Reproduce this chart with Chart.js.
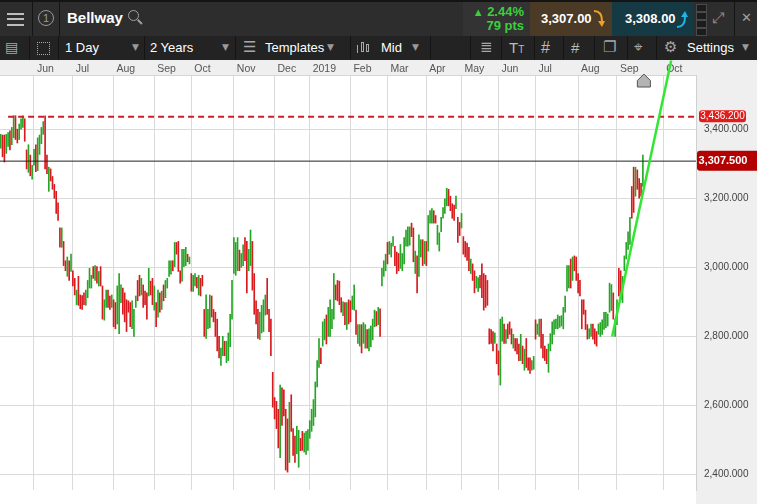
<!DOCTYPE html>
<html>
<head>
<meta charset="utf-8">
<script src="https://cdn.jsdelivr.net/npm/chart.js@4.4.0/dist/chart.umd.min.js"></script>
<style>
  body { margin:0; width:757px; height:504px; overflow:hidden; background:#fff; font-family:"Liberation Sans", Arial, sans-serif; }
  #top1 { position:absolute; left:0; top:0; width:757px; height:36px; background:#2d2d2d; border-top:2px solid #141414; box-sizing:border-box; }
  #top2 { position:absolute; left:0; top:36px; width:757px; height:24px; background:#232323; }
  .t { position:absolute; color:#fff; white-space:nowrap; }
  .dv { position:absolute; top:0; width:1px; height:100%; background:#141414; }
  .ic { position:absolute; color:#a8a8a8; font-family:"DejaVu Sans", sans-serif; white-space:nowrap; }
  .ham { position:absolute; left:7px; width:17px; height:2px; background:#bdbdbd; }
  .tri { position:absolute; top:6px; color:#9a9a9a; font-size:9px; font-family:"DejaVu Sans", sans-serif; }
  #wrap { position:absolute; left:0; top:60px; width:757px; height:444px; }
</style>
</head>
<body>
<div id="top1">
  <div class="ham" style="top:11px"></div>
  <div class="ham" style="top:16px"></div>
  <div class="ham" style="top:22px"></div>
  <div class="dv" style="left:32px"></div>
  <div style="position:absolute;left:38px;top:8px;width:14px;height:14px;border:1.5px solid #9a9a9a;border-radius:50%;color:#9a9a9a;font-size:11px;line-height:14px;text-align:center;">1</div>
  <div class="dv" style="left:59px"></div>
  <div class="t" style="left:67px;top:7px;font-size:15px;font-weight:bold;line-height:18px;">Bellway</div>
  <div style="position:absolute;left:128px;top:8px;width:9px;height:9px;border:1.5px solid #a0a0a0;border-radius:50%;"></div>
  <div style="position:absolute;left:137px;top:19px;width:6px;height:1.5px;background:#a0a0a0;transform:rotate(45deg);"></div>
  <div style="position:absolute;left:463px;top:0;width:67px;height:34px;background:#333;"></div>
  <div class="t" style="left:463px;width:61px;text-align:right;top:3px;font-size:13px;font-weight:bold;color:#3ccf3c;line-height:14px;"><span style="font-size:11px">&#9650;</span> 2.44%</div>
  <div class="t" style="left:463px;width:61px;text-align:right;top:17px;font-size:13px;font-weight:bold;color:#3ccf3c;line-height:14px;">79 pts</div>
  <div style="position:absolute;left:530px;top:0;width:82px;height:34px;background:#4b3a26;"></div>
  <div class="t" style="left:541px;top:9px;font-size:13px;font-weight:bold;line-height:16px;">3,307.00</div>
  <svg style="position:absolute;left:593px;top:8px" width="12" height="18" viewBox="0 0 12 18"><path d="M1 2 Q8 2 8 11 L5 11 L9 17 L12 11 L10 11 Q10 0 1 0 Z" fill="#f0a020"/></svg>
  <div style="position:absolute;left:612px;top:0;width:82px;height:34px;background:#163a44;"></div>
  <div class="t" style="left:625px;top:9px;font-size:13px;font-weight:bold;line-height:16px;">3,308.00</div>
  <svg style="position:absolute;left:676px;top:8px" width="12" height="18" viewBox="0 0 12 18"><path d="M1 16 Q8 16 8 7 L5 7 L9 1 L12 7 L10 7 Q10 18 1 18 Z" fill="#1eb4e6"/></svg>
  <div style="position:absolute;left:696px;top:2px;width:9px;height:6px;background:#1c1c1c;border:1px solid #4a4a4a;"></div>
  <div style="position:absolute;left:696px;top:10px;width:9px;height:6px;background:#1c1c1c;border:1px solid #4a4a4a;"></div>
  <div style="position:absolute;left:696px;top:18px;width:9px;height:6px;background:#1c1c1c;border:1px solid #4a4a4a;"></div>
  <div style="position:absolute;left:696px;top:26px;width:9px;height:6px;background:#1c1c1c;border:1px solid #4a4a4a;"></div>
  <div class="ic" style="left:712px;top:7px;font-size:15px;color:#8a8a8a;">&#10530;</div>
  <div class="dv" style="left:734px"></div>
  <div class="ic" style="left:741px;top:8px;font-size:13px;color:#a0a0a0;">&#10005;</div>
</div>
<div id="top2">
  <div class="ic" style="left:5px;top:3px;font-size:14px;">&#9636;</div>
  <div class="dv" style="left:29px"></div>
  <div style="position:absolute;left:37px;top:6px;width:11px;height:11px;border:1px dotted #a8a8a8;"></div>
  <div class="dv" style="left:58px"></div>
  <div class="t" style="left:65px;top:4px;font-size:13px;line-height:16px;">1 Day</div>
  <div class="tri" style="left:132px">&#9660;</div>
  <div class="dv" style="left:144px"></div>
  <div class="t" style="left:150px;top:4px;font-size:13px;line-height:16px;">2 Years</div>
  <div class="tri" style="left:222px">&#9660;</div>
  <div class="dv" style="left:235px"></div>
  <div class="ic" style="left:243px;top:2px;font-size:15px;">&#9776;</div>
  <div class="t" style="left:265px;top:4px;font-size:13px;line-height:16px;">Templates</div>
  <div class="tri" style="left:327px">&#9660;</div>
  <div class="dv" style="left:350px"></div>
  <div style="position:absolute;left:357px;top:9px;width:1px;height:8px;background:#a8a8a8;"></div>
  <div style="position:absolute;left:361px;top:6px;width:3px;height:10px;border:1px solid #a8a8a8;box-sizing:border-box;"></div>
  <div style="position:absolute;left:366px;top:8px;width:3px;height:8px;border:1px solid #a8a8a8;box-sizing:border-box;"></div>
  <div class="t" style="left:381px;top:4px;font-size:13px;line-height:16px;">Mid</div>
  <div class="tri" style="left:412px">&#9660;</div>
  <div class="dv" style="left:430px"></div>
  <div class="dv" style="left:470px"></div>
  <div class="ic" style="left:480px;top:2px;font-size:15px;">&#8803;</div>
  <div class="dv" style="left:501px"></div>
  <div class="t" style="left:509px;top:3px;font-size:15px;color:#bbb;line-height:17px;">T<span style="font-size:10px">T</span></div>
  <div class="dv" style="left:534px"></div>
  <div class="t" style="left:541px;top:3px;font-size:16px;color:#bbb;line-height:17px;">#</div>
  <div class="dv" style="left:563px"></div>
  <div class="t" style="left:571px;top:3px;font-size:15px;color:#bbb;line-height:17px;">#</div>
  <div class="dv" style="left:594px"></div>
  <div class="ic" style="left:603px;top:2px;font-size:15px;">&#10064;</div>
  <div class="dv" style="left:627px"></div>
  <div class="ic" style="left:634px;top:2px;font-size:15px;">&#8982;</div>
  <div class="dv" style="left:656px"></div>
  <div class="ic" style="left:664px;top:2px;font-size:15px;">&#9881;</div>
  <div class="t" style="left:687px;top:4px;font-size:13px;line-height:16px;">Settings</div>
  <div class="tri" style="left:742px">&#9660;</div>
</div>
<div id="wrap"><canvas id="chart" width="757" height="444"></canvas></div>

<script>
// --- data: daily high / low bars, last flag 1 = up (green), 0 = down (red) ---
const may18 = [[3385,3345,1],[3383,3320,0],[3383,3305,0],[3385,3330,1],[3390,3350,1],[3395,3340,0],[3405,3355,1],[3439,3375,1],[3439,3370,0],[3400,3360,0],[3415,3370,1],[3430,3400,1],[3439,3405,1],[3430,3365,0],[3340,3285,0],[3355,3275,1],[3325,3265,0],[3295,3255,1]];
const jun18 = [[3342,3296,1],[3355,3277,0],[3375,3280,1],[3383,3327,1],[3405,3358,1],[3422,3385,1],[3439,3285,0],[3325,3271,0],[3290,3220,1],[3285,3250,0],[3263,3226,0],[3240,3200,0],[3220,3156,0],[3187,3136,0],[3114,3058,0],[3114,3058,1],[3075,3005,0],[3019,2990,0],[3030,2974,1],[3019,2962,0],[3038,2988,1]];
const jul18 = [[2990,2946,0],[2968,2920,0],[2934,2892,1],[2974,2890,0],[2920,2880,0],[2918,2878,0],[2926,2892,0],[2934,2890,1],[2962,2912,1],[2997,2940,1],[2977,2940,1],[3002,2968,0],[3005,2962,1],[3002,2954,0],[2988,2946,1],[3002,2946,0],[2946,2850,0],[2906,2847,1],[2934,2884,1],[2934,2884,0],[2917,2878,0],[2920,2884,1]];
const aug18 = [[2906,2828,0],[2898,2822,0],[2946,2836,1],[2982,2808,1],[2949,2898,1],[2940,2864,0],[2926,2842,0],[2906,2814,0],[2903,2870,0],[2898,2828,0],[2903,2822,1],[2878,2800,1],[2917,2884,1],[2962,2903,0],[2977,2917,0],[2968,2920,1],[2949,2884,0],[2931,2892,0],[2926,2850,0],[2997,2917,1],[2960,2920,0],[2968,2892,0]];
const sep18 = [[2946,2876,1],[2898,2828,0],[2934,2856,1],[2926,2870,0],[2931,2878,1],[2949,2903,0],[2962,2912,1],[2968,2940,1],[3019,2974,1],[3019,2980,1],[3019,2990,0],[3072,3002,1],[3072,3038,0],[3075,2988,0],[2990,2954,0],[3052,2960,1],[3052,3002,1],[3058,3005,1],[3038,3016,0],[3030,3010,1]];
const oct18 = [[2982,2931,0],[2977,2930,1],[2982,2946,1],[2971,2940,0],[2977,2920,1],[2968,2917,0],[2977,2946,0],[2878,2800,0],[2920,2794,1],[2878,2822,1],[2920,2825,1],[2917,2856,0],[2878,2842,0],[2870,2800,0],[2850,2758,0],[2800,2738,0],[2766,2716,1],[2800,2744,1],[2786,2744,0],[2786,2724,1],[2810,2730,1],[2864,2770,1],[2962,2850,1]];
const nov18 = [[3086,2982,1],[3072,2977,1],[3086,2990,1],[3050,2990,0],[3040,3000,1],[3065,3005,1],[3086,3019,0],[3075,2926,0],[3052,2990,1],[3108,3005,1],[3075,2934,0],[2982,2864,0],[2903,2836,0],[2878,2794,0],[2870,2791,1],[2890,2810,1],[2906,2814,1],[2920,2862,1],[2968,2864,0],[2878,2814,0],[2850,2744,0],[2696,2595,0]];
const dec18 = [[2623,2561,0],[2612,2533,0],[2589,2477,0],[2659,2449,1],[2651,2542,0],[2645,2570,0],[2589,2413,0],[2561,2407,0],[2609,2435,1],[2631,2525,0],[2533,2455,0],[2511,2435,0],[2540,2460,1],[2528,2421,1],[2505,2469,0],[2525,2470,0],[2520,2465,1],[2525,2458,1],[2530,2470,1]];
const jan19 = [[2556,2505,1],[2589,2525,1],[2617,2542,1],[2668,2567,1],[2730,2654,1],[2794,2710,1],[2766,2721,0],[2842,2772,1],[2850,2790,1],[2862,2778,0],[2884,2800,1],[2906,2800,1],[2878,2822,1],[2982,2850,1],[2949,2906,0],[2962,2903,0],[2960,2892,0],[2912,2870,0],[2900,2860,1],[2898,2834,0],[2898,2820,1],[2906,2836,0]];
const feb19 = [[2903,2842,0],[2917,2878,1],[2949,2876,1],[2876,2806,0],[2834,2780,1],[2834,2772,1],[2834,2752,0],[2840,2780,1],[2834,2766,1],[2820,2766,0],[2822,2758,1],[2830,2770,1],[2850,2790,1],[2876,2828,1],[2872,2830,0],[2884,2834,1],[2880,2800,0],[2997,2946,1],[3019,2974,1],[3038,2990,1]];
const mar19 = [[3072,3010,0],[3075,3038,1],[3070,3030,1],[3089,3061,1],[3061,3005,0],[3044,2982,0],[3040,2990,0],[3066,2997,1],[3040,2990,1],[3086,3010,1],[3108,3061,1],[3117,3061,1],[3117,3064,1],[3128,3089,0],[3114,3016,0],[3047,2982,1],[3033,2926,0],[3094,2974,1],[3080,3030,1],[3080,3005,0],[3075,3010,1]];
const apr19 = [[3075,3005,0],[3150,3047,1],[3164,3128,1],[3170,3128,1],[3164,3128,0],[3150,3128,0],[3122,3066,1],[3100,3047,1],[3145,3103,1],[3173,3142,1],[3198,3156,1],[3229,3178,1],[3226,3178,0],[3206,3164,0],[3184,3142,0],[3180,3136,0],[3206,3170,1],[3145,3072,0],[3130,3092,0]];
const may19 = [[3156,3114,1],[3089,3038,0],[3075,3030,0],[3070,3020,0],[3058,2990,0],[3024,2982,1],[3010,2962,0],[2990,2926,0],[2974,2940,1],[2970,2930,1],[2977,2940,0],[3010,2912,0],[2982,2876,0],[2977,2884,0],[2962,2890,0],[2822,2778,0],[2820,2780,0],[2814,2758,0],[2810,2780,1],[2778,2721,0]];
const jun19 = [[2758,2688,0],[2850,2659,1],[2856,2786,1],[2836,2780,0],[2820,2780,1],[2836,2794,0],[2842,2806,0],[2822,2778,0],[2806,2766,1],[2794,2758,0],[2794,2749,0],[2778,2730,0],[2806,2730,1],[2772,2721,0],[2763,2702,1],[2794,2710,0],[2738,2702,0],[2738,2693,0],[2730,2702,1],[2742,2705,1]];
const jul19 = [[2848,2792,0],[2836,2806,1],[2850,2800,1],[2850,2766,0],[2806,2738,0],[2772,2730,0],[2763,2721,0],[2778,2696,1],[2808,2758,1],[2842,2778,1],[2848,2806,1],[2850,2822,1],[2862,2822,1],[2858,2826,1],[2860,2830,1],[2884,2822,1],[2917,2870,1],[3005,2931,1],[3005,2940,1],[3024,2940,0],[3030,2962,1],[3033,2990,0],[3030,2962,0]];
const aug19 = [[2982,2926,0],[2962,2917,0],[2906,2822,0],[2906,2864,0],[2876,2820,0],[2834,2792,0],[2822,2794,1],[2836,2800,1],[2836,2792,0],[2822,2778,0],[2814,2772,0],[2836,2806,1],[2840,2800,1],[2848,2806,1],[2870,2820,1],[2870,2825,1],[2865,2830,1],[2954,2870,1],[2950,2875,1],[2926,2850,0],[2850,2800,1]];
const sep19 = [[2906,2834,1],[2997,2917,0],[2990,2906,0],[2974,2898,1],[3033,2990,1],[3072,3024,1],[3103,3052,1],[3145,3066,1],[3234,3142,0],[3290,3159,0],[3290,3206,1],[3282,3226,0],[3257,3200,0],[3243,3206,0],[3325,3234,1]];

// month starts (trading-day index, 0 = 1 Jun 2018) and their labels
const monthIdx = [0, 21, 43, 65, 85, 108, 130, 149, 171, 191, 212, 231, 251, 271, 294, 315, 340];
const monthLabels = ['Jun','Jul','Aug','Sep','Oct','Nov','Dec','2019','Feb','Mar','Apr','May','Jun','Jul','Aug','Sep','Oct'];
const priceTicks = [2400, 2600, 2800, 3000, 3200, 3400];

const resistance = 3436.2;     // dashed red level
const lastPrice = 3307.5;      // current price line
const resistanceFrom = -14;    // index where the dashed level starts
const trendFrom = [312.4, 2800];
const trendTo = [344.3, 3599];

// --- setup ---
const GREEN = '#26a526';
const RED = '#d61a1e';
const X_MIN = -18.37, X_MAX = 357.7;
const Y_MIN = 2355.2, Y_MAX = 3556.9;

const allBars = [].concat(may18, jun18, jul18, aug18, sep18, oct18, nov18, dec18,
  jan19, feb19, mar19, apr19, may19, jun19, jul19, aug19, sep19);
const firstIdx = -may18.length;
const lastIdx = firstIdx + allBars.length - 1;

function fmt(v) {
  return v.toLocaleString('en-US', { minimumFractionDigits: 3, maximumFractionDigits: 3 });
}

function roundRect(ctx, x, y, w, h, r) {
  ctx.beginPath();
  ctx.moveTo(x + r, y);
  ctx.lineTo(x + w - r, y);
  ctx.quadraticCurveTo(x + w, y, x + w, y + r);
  ctx.lineTo(x + w, y + h - r);
  ctx.quadraticCurveTo(x + w, y + h, x + w - r, y + h);
  ctx.lineTo(x + r, y + h);
  ctx.quadraticCurveTo(x, y + h, x, y + h - r);
  ctx.lineTo(x, y + r);
  ctx.quadraticCurveTo(x, y, x + r, y);
  ctx.closePath();
}

const chrome = {
  id: 'chrome',
  beforeDraw(chart) {
    const { ctx, chartArea: a, width, height } = chart;
    ctx.save();
    ctx.fillStyle = '#efefef';
    ctx.fillRect(0, 0, width, a.top);
    ctx.fillRect(a.right, a.top, width - a.right, height - a.top);
    ctx.restore();
  },
  afterDraw(chart) {
    const { ctx, chartArea: a, scales } = chart;
    const yS = scales.y, xS = scales.x;
    ctx.save();
    ctx.textAlign = 'center';
    ctx.textBaseline = 'middle';

    // resistance tag
    let y = yS.getPixelForValue(resistance);
    ctx.fillStyle = '#e31b1b';
    roundRect(ctx, a.right + 3, y - 6.5, 47, 12, 3);
    ctx.fill();
    ctx.fillStyle = '#fff';
    ctx.font = '10px "Liberation Sans", Arial, sans-serif';
    ctx.fillText(fmt(resistance), a.right + 26.5, y);

    // last price tag
    y = yS.getPixelForValue(lastPrice);
    ctx.fillStyle = '#b30000';
    roundRect(ctx, a.right + 1, y - 10.5, 64, 20, 3);
    ctx.fill();
    ctx.fillStyle = '#fff';
    ctx.font = 'bold 11px "Liberation Sans", Arial, sans-serif';
    ctx.fillText(fmt(lastPrice), a.right + 27, y);

    // current bar marker
    const mx = xS.getPixelForValue(lastIdx) + 1;
    const top = a.top - 1;
    ctx.beginPath();
    ctx.moveTo(mx, top);
    ctx.lineTo(mx + 6.5, top + 6.5);
    ctx.lineTo(mx + 6.5, top + 13);
    ctx.lineTo(mx - 6.5, top + 13);
    ctx.lineTo(mx - 6.5, top + 6.5);
    ctx.closePath();
    ctx.fillStyle = '#b4b4b4';
    ctx.fill();
    ctx.strokeStyle = '#555';
    ctx.lineWidth = 1;
    ctx.stroke();
    ctx.restore();
  }
};

new Chart(document.getElementById('chart'), {
  type: 'bar',
  data: {
    datasets: [
      {
        type: 'line',
        data: [{ x: trendFrom[0], y: trendFrom[1] }, { x: trendTo[0], y: trendTo[1] }],
        borderColor: '#33e633',
        borderWidth: 2.5,
        pointRadius: 0,
        clip: false,
        order: 0
      },
      {
        type: 'line',
        data: [{ x: resistanceFrom, y: resistance }, { x: X_MAX, y: resistance }],
        borderColor: '#c8202a',
        borderWidth: 2,
        borderDash: [6, 4],
        pointRadius: 0,
        order: 1
      },
      {
        type: 'line',
        data: [{ x: X_MIN, y: lastPrice }, { x: X_MAX, y: lastPrice }],
        borderColor: '#222',
        borderWidth: 1,
        pointRadius: 0,
        order: 2
      },
      {
        data: allBars.map((b, i) => ({ x: firstIdx + i, y: [b[1], b[0]] })),
        backgroundColor: allBars.map(b => b[2] ? GREEN : RED),
        barThickness: 1,
        grouped: false,
        borderWidth: 0,
        order: 3
      }
    ]
  },
  options: {
    responsive: false,
    animation: false,
    layout: { padding: 0 },
    plugins: { legend: { display: false }, tooltip: { enabled: false } },
    scales: {
      x: {
        type: 'linear',
        position: 'top',
        offset: false,
        min: X_MIN,
        max: X_MAX,
        afterBuildTicks: s => { s.ticks = monthIdx.map(v => ({ value: v })); },
        afterFit: s => { s.height = 15; },
        grid: { color: '#dadada', drawTicks: false, offset: false },
        border: { color: '#d6d6d6' },
        ticks: {
          autoSkip: false,
          maxRotation: 0,
          align: 'start',
          padding: 0,
          color: '#555',
          font: { family: '"Liberation Sans", Arial, sans-serif', size: 10.5 },
          callback: (v, i) => ' ' + monthLabels[i]
        }
      },
      y: {
        type: 'linear',
        position: 'right',
        min: Y_MIN,
        max: Y_MAX,
        afterBuildTicks: s => { s.ticks = priceTicks.map(v => ({ value: v })); },
        afterFit: s => { s.width = 61; },
        grid: { color: '#dadada', drawTicks: false },
        border: { color: '#d0d0d0' },
        ticks: {
          padding: 8,
          color: '#444',
          font: { family: '"Liberation Sans", Arial, sans-serif', size: 10 },
          callback: v => fmt(v)
        }
      }
    }
  },
  plugins: [chrome]
});
</script>
</body>
</html>
